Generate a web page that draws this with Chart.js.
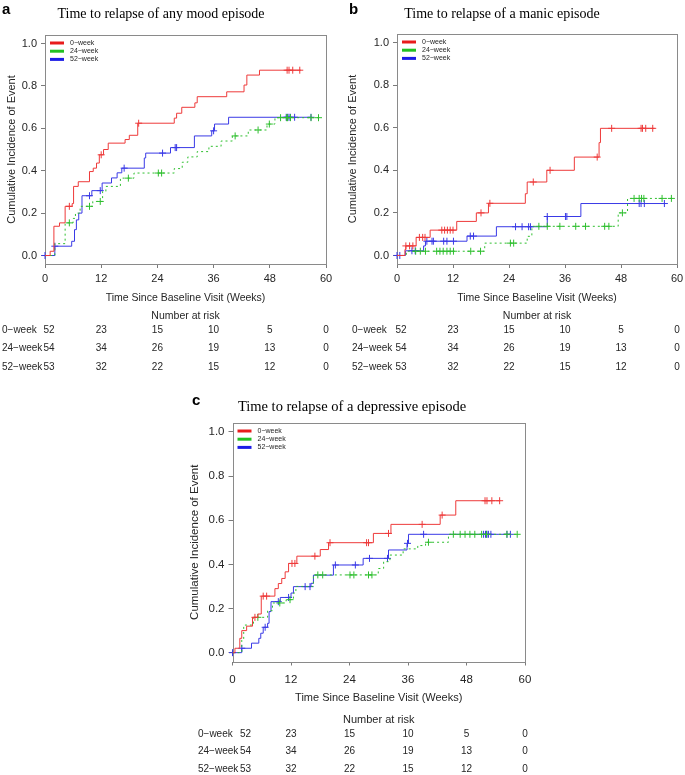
<!DOCTYPE html>
<html>
<head>
<meta charset="utf-8">
<script src="https://cdn.jsdelivr.net/npm/chart.js@4.4.1/dist/chart.umd.min.js"></script>
<style>
html, body { margin: 0; padding: 0; background: #fff; }
#wrap { position: relative; width: 685px; height: 775px; overflow: hidden; }
#wrap canvas { position: absolute; left: 0; top: 0; }
</style>
</head>
<body>
<div id="wrap">
  <canvas id="chartA" width="685" height="775"></canvas>
  <canvas id="chartB" width="685" height="775"></canvas>
  <canvas id="chartC" width="685" height="775"></canvas>
</div>
<script>
// shared axis / table data
const weeks = [0, 12, 24, 36, 48, 60];
const yTicks = [0, 0.2, 0.4, 0.6, 0.8, 1.0];
const groups = ['0\u2212week', '24\u2212week', '52\u2212week'];
const atRisk0wk = [52, 23, 15, 10, 5, 0];
const atRisk24wk = [54, 34, 26, 19, 13, 0];
const atRisk52wk = [53, 32, 22, 15, 12, 0];

// a: any mood episode  (step times in weeks, cumulative incidence after each step, censor times)
const aRedT = [0, 1.1, 1.9, 3.1, 4.3, 5.8, 6.1, 7.1, 9.5, 10.3, 11.0, 11.6, 12.5, 13.5, 17.1, 18.0, 19.8, 27.6, 28.1, 29.2, 32.0, 32.5, 38.8, 42.5, 43.1, 45.8, 54.6];
const aRedV = [0, 0.02, 0.138, 0.154, 0.232, 0.245, 0.326, 0.348, 0.396, 0.412, 0.436, 0.475, 0.5, 0.53, 0.547, 0.567, 0.624, 0.648, 0.671, 0.699, 0.72, 0.749, 0.772, 0.804, 0.851, 0.874, 0.874];
const aRedCens = [5.2, 12.0, 20.0, 51.7, 52.1, 52.9, 54.4];
const aGreenT = [0, 2.1, 4.3, 6.0, 6.5, 7.5, 10.2, 12.3, 13.0, 16.1, 19.0, 27.6, 29.3, 30.5, 32.5, 35.0, 37.6, 40.0, 43.4, 47.4, 49.1, 58.5];
const aGreenV = [0, 0.056, 0.154, 0.175, 0.2, 0.232, 0.255, 0.302, 0.326, 0.365, 0.389, 0.41, 0.44, 0.465, 0.49, 0.515, 0.54, 0.564, 0.592, 0.62, 0.65, 0.65];
const aGreenCens = [5.2, 9.5, 11.8, 17.8, 24.2, 24.9, 40.6, 45.5, 47.9, 50.3, 51.6, 51.8, 52.4, 56.8, 58.4];
const aBlueT = [0, 2.1, 5.7, 6.3, 6.7, 7.2, 7.9, 10.0, 12.2, 14.2, 15.4, 16.4, 21.2, 21.5, 26.8, 31.9, 35.6, 36.2, 39.2, 56.9];
const aBlueV = [0, 0.044, 0.067, 0.122, 0.168, 0.2, 0.282, 0.306, 0.342, 0.366, 0.39, 0.412, 0.46, 0.483, 0.509, 0.564, 0.588, 0.62, 0.652, 0.652];
const aBlueCens = [0, 2.1, 9.5, 11.8, 16.9, 25.1, 27.8, 28.1, 36.0, 51.5, 51.8, 52.1, 52.4, 53.3, 56.8];

// b: manic episode
const bRedT = [0, 1.7, 1.9, 4.1, 7.1, 12.8, 17.0, 19.6, 27.5, 27.9, 32.1, 38.0, 43.3, 43.6, 55.2];
const bRedV = [0, 0.028, 0.045, 0.085, 0.119, 0.16, 0.2, 0.245, 0.29, 0.345, 0.4, 0.462, 0.53, 0.597, 0.597];
const bRedCens = [1.9, 2.7, 3.4, 4.8, 5.5, 6.0, 9.6, 10.2, 10.8, 11.4, 12.0, 18.0, 19.9, 29.2, 32.8, 42.9, 46.0, 52.3, 52.6, 53.3, 54.8];
const bGreenT = [0, 2.0, 18.8, 27.9, 28.9, 47.4, 49.4, 58.8];
const bGreenV = [0, 0.02, 0.058, 0.09, 0.137, 0.2, 0.268, 0.268];
const bGreenCens = [4.0, 5.0, 6.1, 8.5, 9.2, 9.9, 10.7, 11.4, 12.1, 15.8, 17.9, 24.3, 25.0, 30.4, 32.2, 34.9, 38.3, 40.4, 44.5, 45.4, 48.3, 50.8, 51.9, 52.4, 52.9, 56.8, 58.8];
const bBlueT = [0, 1.8, 5.7, 6.1, 15.0, 21.3, 32.2, 39.4, 57.3];
const bBlueV = [0, 0.022, 0.045, 0.067, 0.091, 0.135, 0.183, 0.244, 0.244];
const bBlueCens = [0, 0.6, 3.2, 3.9, 6.4, 7.5, 7.8, 10.0, 10.7, 12.1, 15.7, 16.4, 25.4, 26.8, 28.2, 28.6, 32.2, 36.1, 36.4, 51.9, 52.3, 53.0, 57.3];

// c: depressive episode
const cRedT = [0, 0.5, 1.5, 1.9, 2.9, 4.1, 5.2, 5.9, 8.7, 9.4, 10.1, 10.8, 11.5, 13.2, 18.0, 19.7, 28.9, 32.5, 42.6, 45.8, 54.9];
const cRedV = [0, 0.02, 0.065, 0.1, 0.12, 0.16, 0.175, 0.256, 0.29, 0.313, 0.336, 0.366, 0.404, 0.437, 0.467, 0.498, 0.54, 0.581, 0.623, 0.688, 0.688];
const cRedCens = [4.6, 6.3, 7.0, 12.2, 12.8, 16.9, 20.0, 27.5, 27.9, 32.0, 38.9, 43.0, 51.8, 52.2, 53.2, 54.8];
const cGreenT = [0, 1.9, 2.3, 4.3, 7.2, 8.2, 11.0, 12.5, 13.0, 16.6, 29.9, 31.0, 32.3, 35.0, 38.0, 39.6, 44.3, 58.4];
const cGreenV = [0, 0.057, 0.125, 0.16, 0.19, 0.225, 0.24, 0.27, 0.3, 0.352, 0.381, 0.412, 0.442, 0.47, 0.485, 0.5, 0.536, 0.536];
const cGreenCens = [5.2, 9.7, 11.8, 17.5, 18.5, 24.1, 24.9, 27.9, 28.6, 40.2, 45.3, 46.7, 47.7, 48.7, 49.7, 51.1, 52.1, 56.3, 58.4];
const cBlueT = [0, 1.9, 3.9, 5.4, 5.8, 6.3, 7.2, 7.5, 7.9, 9.8, 12.0, 12.5, 16.1, 16.6, 20.7, 26.8, 32.0, 35.8, 36.1, 57.0];
const cBlueV = [0, 0.02, 0.043, 0.065, 0.088, 0.115, 0.133, 0.186, 0.231, 0.25, 0.27, 0.299, 0.314, 0.351, 0.397, 0.427, 0.465, 0.495, 0.536, 0.536];
const cBlueCens = [0, 1.9, 6.7, 9.4, 11.5, 14.9, 15.9, 21.1, 25.2, 28.1, 31.8, 35.9, 39.2, 51.5, 51.9, 52.2, 52.5, 53.0, 56.3, 57.0];

const SANS = '"Liberation Sans", Arial, sans-serif';
const SERIF = '"Liberation Serif", "Times New Roman", serif';
const TEXT = '#262626';
const RED = { line: '#ee3a3a', key: '#e81c1c' };
const GREEN = { line: '#2fbf2f', key: '#22c022' };
const BLUE = { line: '#3a3ae6', key: '#1c1ce6' };
const riskRows = [atRisk0wk, atRisk24wk, atRisk52wk];

function stepValue(times, vals, t) {
    let v = 0;
    for (let i = 0; i < times.length; i++) {
        if (times[i] <= t + 1e-9) v = vals[i];
    }
    return v;
}

function buildDatasets(series) {
    const out = [];
    series.forEach(s => {
        out.push({
            label: s.label,
            data: s.t.map((t, i) => ({ x: t, y: s.v[i] })),
            stepped: true,
            borderColor: s.color.line,
            borderWidth: 1,
            borderDash: s.dash || [],
            pointRadius: 0,
            fill: false
        });
        out.push({
            label: s.label + ' censored',
            data: s.c.map(t => ({ x: t, y: stepValue(s.t, s.v, t) })),
            showLine: false,
            pointStyle: 'cross',
            pointRadius: 3.5,
            pointBorderWidth: 1,
            pointBorderColor: s.color.line,
            pointBackgroundColor: s.color.line,
            clip: false
        });
    });
    return out;
}

function decorPlugin(p, series) {
    return {
        id: 'decor' + p.letter,
        beforeDatasetsDraw(chart) {
            const a = chart.chartArea, ctx = chart.ctx;
            ctx.save();
            ctx.strokeStyle = '#8a8a8a';
            ctx.lineWidth = 1;
            const l = Math.round(a.left), t = Math.round(a.top);
            ctx.strokeRect(l + 0.5, t + 0.5, Math.round(a.right) - l, Math.round(a.bottom) - t);
            ctx.restore();
        },
        afterDraw(chart) {
            const a = chart.chartArea, ctx = chart.ctx, xs = chart.scales.x;
            ctx.save();
            // panel letter + title
            ctx.fillStyle = '#000';
            ctx.textAlign = 'left';
            ctx.textBaseline = 'alphabetic';
            ctx.font = 'bold 15px ' + SANS;
            ctx.fillText(p.letter, p.letterX, p.letterY);
            ctx.textAlign = 'center';
            ctx.font = p.titleSize + 'px ' + SERIF;
            ctx.fillText(p.title, p.titleX, p.titleY);

            // legend, top left inside the box
            ctx.textAlign = 'left';
            ctx.textBaseline = 'middle';
            ctx.font = '7px ' + SANS;
            series.forEach((s, i) => {
                const y = a.top + 8 + i * 8.2;
                ctx.strokeStyle = s.color.key;
                ctx.lineWidth = 3;
                ctx.beginPath();
                ctx.moveTo(a.left + 5, y);
                ctx.lineTo(a.left + 19, y);
                ctx.stroke();
                ctx.fillStyle = TEXT;
                ctx.fillText(s.label, a.left + 25, y);
            });

            // axis titles
            ctx.fillStyle = TEXT;
            ctx.textAlign = 'center';
            ctx.font = p.xTitleSize + 'px ' + SANS;
            ctx.fillText('Time Since Baseline Visit (Weeks)', (a.left + a.right) / 2, p.xTitleY);
            ctx.save();
            ctx.translate(p.yTitleX, (a.top + a.bottom) / 2);
            ctx.rotate(-Math.PI / 2);
            ctx.font = p.yTitleSize + 'px ' + SANS;
            ctx.fillText('Cumulative Incidence of Event', 0, 0);
            ctx.restore();

            // number at risk table
            ctx.font = p.xTitleSize + 'px ' + SANS;
            ctx.fillText('Number at risk', (a.left + a.right) / 2, p.narY);
            ctx.font = p.rowSize + 'px ' + SANS;
            riskRows.forEach((row, i) => {
                const y = p.rowsY[i];
                ctx.textAlign = 'left';
                ctx.fillText(groups[i], p.rowLabelX, y);
                ctx.textAlign = 'center';
                row.forEach((n, j) => {
                    const x = xs.getPixelForValue(weeks[j]) + (j === 0 ? p.firstShift : 0);
                    ctx.fillText(String(n), x, y);
                });
            });
            ctx.restore();
        }
    };
}

function makePanel(id, p, series) {
    const yW = 40, xH = 30;
    const tickFont = { family: SANS, size: p.tickSize };
    new Chart(document.getElementById(id), {
        type: 'line',
        data: { datasets: buildDatasets(series) },
        options: {
            responsive: false,
            animation: false,
            events: [],
            layout: {
                padding: {
                    left: p.box.left - yW,
                    right: 685 - p.box.right,
                    top: p.box.top,
                    bottom: 775 - p.box.bottom - xH
                }
            },
            plugins: {
                legend: { display: false },
                tooltip: { enabled: false }
            },
            scales: {
                x: {
                    type: 'linear',
                    min: 0,
                    max: 60,
                    afterBuildTicks: s => { s.ticks = weeks.map(v => ({ value: v })); },
                    afterFit: s => { s.height = xH; s.paddingLeft = 0; s.paddingRight = 0; },
                    grid: { drawOnChartArea: false, tickLength: 4, color: '#7a7a7a' },
                    border: { display: false },
                    ticks: { padding: p.tickPadX, font: tickFont, color: TEXT, maxRotation: 0, autoSkip: false }
                },
                y: {
                    type: 'linear',
                    min: -0.04,
                    max: 1.04,
                    afterBuildTicks: s => { s.ticks = yTicks.map(v => ({ value: v })); },
                    afterFit: s => { s.width = yW; s.paddingTop = 0; s.paddingBottom = 0; },
                    grid: { drawOnChartArea: false, tickLength: 4, color: '#7a7a7a' },
                    border: { display: false },
                    ticks: { padding: 4, font: tickFont, color: TEXT, callback: v => Number(v).toFixed(1) }
                }
            }
        },
        plugins: [decorPlugin(p, series)]
    });
}

makePanel('chartA', {
    letter: 'a', letterX: 2, letterY: 13.5,
    title: 'Time to relapse of any mood episode', titleX: 161, titleY: 17.5, titleSize: 14,
    box: { left: 45, right: 326, top: 35, bottom: 264 },
    tickSize: 11, tickPadX: 4, xTitleSize: 10.5, yTitleSize: 11, rowSize: 10,
    xTitleY: 298.5, yTitleX: 12, narY: 316, rowsY: [330.5, 348.5, 367], rowLabelX: 2, firstShift: 4
}, [
    { label: groups[0], t: aRedT, v: aRedV, c: aRedCens, color: RED },
    { label: groups[1], t: aGreenT, v: aGreenV, c: aGreenCens, color: GREEN, dash: [2, 3] },
    { label: groups[2], t: aBlueT, v: aBlueV, c: aBlueCens, color: BLUE }
]);

makePanel('chartB', {
    letter: 'b', letterX: 349, letterY: 13.5,
    title: 'Time to relapse of a manic episode', titleX: 502, titleY: 17.5, titleSize: 14,
    box: { left: 397, right: 677, top: 34, bottom: 264 },
    tickSize: 11, tickPadX: 4, xTitleSize: 10.5, yTitleSize: 11, rowSize: 10,
    xTitleY: 298.5, yTitleX: 353, narY: 316, rowsY: [330.5, 348.5, 367], rowLabelX: 352, firstShift: 4
}, [
    { label: groups[0], t: bRedT, v: bRedV, c: bRedCens, color: RED },
    { label: groups[1], t: bGreenT, v: bGreenV, c: bGreenCens, color: GREEN, dash: [2, 3] },
    { label: groups[2], t: bBlueT, v: bBlueV, c: bBlueCens, color: BLUE }
]);

makePanel('chartC', {
    letter: 'c', letterX: 192, letterY: 405,
    title: 'Time to relapse of a depressive episode', titleX: 352, titleY: 410.5, titleSize: 14.5,
    box: { left: 232.5, right: 525, top: 423, bottom: 661.5 },
    tickSize: 11.5, tickPadX: 7, xTitleSize: 11, yTitleSize: 11.5, rowSize: 10,
    xTitleY: 698, yTitleX: 195, narY: 719.5, rowsY: [734, 751, 769], rowLabelX: 198, firstShift: 13
}, [
    { label: groups[0], t: cRedT, v: cRedV, c: cRedCens, color: RED },
    { label: groups[1], t: cGreenT, v: cGreenV, c: cGreenCens, color: GREEN, dash: [2, 3] },
    { label: groups[2], t: cBlueT, v: cBlueV, c: cBlueCens, color: BLUE }
]);
</script>
</body>
</html>
